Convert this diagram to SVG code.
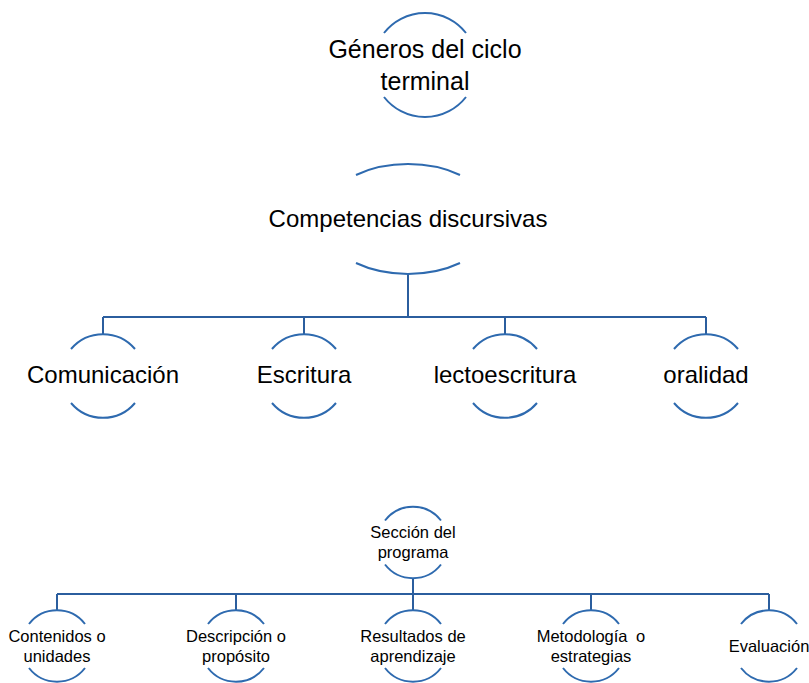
<svg xmlns="http://www.w3.org/2000/svg" width="809" height="683" viewBox="0 0 809 683">
<style>
.arc{fill:none;stroke:#2E6AAF;stroke-width:2}
.con{fill:none;stroke:#2B5E9E;stroke-width:2}
text{font-family:"Liberation Sans",Arial,sans-serif;fill:#000;text-anchor:middle}
.t1{font-size:25px}
.t2{font-size:24px}
.t3{font-size:16.5px}
</style>
<rect width="809" height="683" fill="#fff"/>
<g id="connectors">
<path class="con" d="M408,274 V317 M103,317 H706 M103,317 V334 M304,317 V334 M505,317 V334 M706,317 V334"/>
<path class="con" d="M413,578 V594 M57,594 H769 M57,594 V610.5 M236,594 V610.5 M413,594 V610.5 M591,594 V610.5 M769,594 V610.5"/>
</g>
<g id="generos">
<path class="arc" d="M384,33 A52,52 0 0 1 466,33 M384,97 A52,52 0 0 0 466,97"/>
<text class="t1" x="425" y="58">Géneros del ciclo</text>
<text class="t1" x="425" y="90">terminal</text>
</g>
<g id="competencias">
<path class="arc" d="M356,175 A87,55 0 0 1 460,175 M356,263 A87,55 0 0 0 460,263"/>
<text class="t2" x="408" y="227">Competencias discursivas</text>
</g>
<g id="comunicacion">
<path class="arc" d="M71,349 A42,42 0 0 1 135,349 M71,403 A42,42 0 0 0 135,403"/>
<text class="t2" x="103" y="383">Comunicación</text>
</g>
<g id="escritura">
<path class="arc" d="M272,349 A42,42 0 0 1 336,349 M272,403 A42,42 0 0 0 336,403"/>
<text class="t2" x="304" y="383">Escritura</text>
</g>
<g id="lectoescritura">
<path class="arc" d="M473,349 A42,42 0 0 1 537,349 M473,403 A42,42 0 0 0 537,403"/>
<text class="t2" x="505" y="383">lectoescritura</text>
</g>
<g id="oralidad">
<path class="arc" d="M674,349 A42,42 0 0 1 738,349 M674,403 A42,42 0 0 0 738,403"/>
<text class="t2" x="706" y="383">oralidad</text>
</g>
<g id="seccion">
<path class="arc" d="M385,520.5 A35.5,35.5 0 0 1 441,520.5 M385,564.5 A35.5,35.5 0 0 0 441,564.5"/>
<text class="t3" x="413" y="538">Sección del</text>
<text class="t3" x="413" y="558">programa</text>
</g>
<g id="contenidos">
<path class="arc" d="M29,624 A35.5,35.5 0 0 1 85,624 M29,668 A35.5,35.5 0 0 0 85,668"/>
<text class="t3" x="57" y="642">Contenidos o</text>
<text class="t3" x="57" y="662">unidades</text>
</g>
<g id="descripcion">
<path class="arc" d="M208,624 A35.5,35.5 0 0 1 264,624 M208,668 A35.5,35.5 0 0 0 264,668"/>
<text class="t3" x="236" y="642">Descripción o</text>
<text class="t3" x="236" y="662">propósito</text>
</g>
<g id="resultados">
<path class="arc" d="M385,624 A35.5,35.5 0 0 1 441,624 M385,668 A35.5,35.5 0 0 0 441,668"/>
<text class="t3" x="413" y="642">Resultados de</text>
<text class="t3" x="413" y="662">aprendizaje</text>
</g>
<g id="metodologia">
<path class="arc" d="M563,624 A35.5,35.5 0 0 1 619,624 M563,668 A35.5,35.5 0 0 0 619,668"/>
<text class="t3" x="591" y="642" word-spacing="4">Metodología o</text>
<text class="t3" x="591" y="662">estrategias</text>
</g>
<g id="evaluacion">
<path class="arc" d="M741,624 A35.5,35.5 0 0 1 797,624 M741,668 A35.5,35.5 0 0 0 797,668"/>
<text class="t3" x="769" y="652">Evaluación</text>
</g>
</svg>
